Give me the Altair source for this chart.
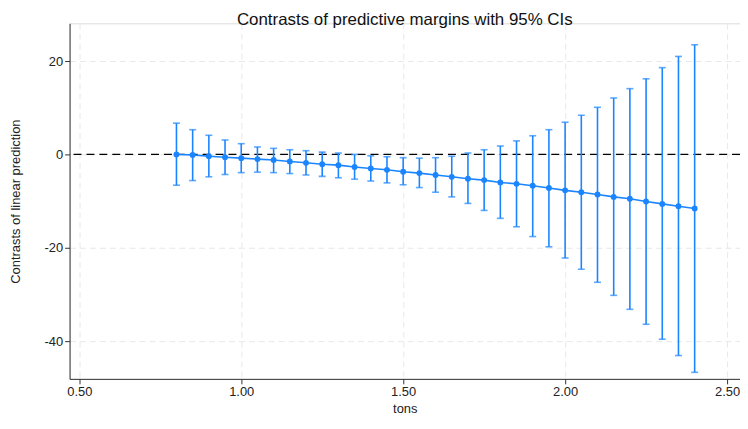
import altair as alt
import pandas as pd

tons = [0.80,0.85,0.90,0.95,1.00,1.05,1.10,1.15,1.20,1.25,1.30,1.35,1.40,1.45,1.50,1.55,
        1.60,1.65,1.70,1.75,1.80,1.85,1.90,1.95,2.00,2.05,2.10,2.15,2.20,2.25,2.30,2.35,2.40]
est = [0,-0.1,-0.4,-0.6,-0.8,-1.0,-1.2,-1.5,-1.8,-2.1,-2.3,-2.7,-3.0,-3.3,-3.7,-4.0,
       -4.4,-4.8,-5.2,-5.5,-6.0,-6.3,-6.7,-7.2,-7.7,-8.1,-8.6,-9.1,-9.5,-10.1,-10.6,-11.1,-11.6]
upper = [6.7,5.3,4.1,3.1,2.3,1.6,1.3,1.0,0.8,0.5,0.3,0.0,-0.3,-0.5,-0.7,-0.8,
         -0.7,-0.4,0.3,1.0,1.8,2.9,4.0,5.3,6.9,8.4,10.1,12.1,14.1,16.2,18.6,21.0,23.5]
lower = [-6.6,-5.6,-4.8,-4.3,-3.9,-3.8,-3.9,-4.1,-4.4,-4.7,-5.0,-5.3,-5.7,-6.1,-6.5,-7.1,
         -8.1,-9.1,-10.5,-12.0,-13.7,-15.5,-17.6,-19.8,-22.2,-24.6,-27.4,-30.2,-33.2,-36.4,-39.6,-43.1,-46.7]

df = pd.DataFrame({"tons": tons, "est": est, "upper": upper, "lower": lower})
blue = "#1a85ff"

xs = alt.Scale(domain=[0.47, 2.54], nice=False, zero=False)
ys = alt.Scale(domain=[-48.1, 28.1], nice=False, zero=False)
X = alt.X("tons:Q", scale=xs, title="tons",
          axis=alt.Axis(values=[0.5, 1.0, 1.5, 2.0, 2.5], format=".2f", grid=True,
                        gridDash=[6, 4], gridColor="#e8e8e8", domainColor="#333", tickColor="#333",
                        labelFontSize=13, titleFontSize=13, labelColor="#222", titleColor="#222",
                        titleFontWeight="normal", labelFont="Liberation Sans", titleFont="Liberation Sans"))
Yax = alt.Axis(values=[-40, -20, 0, 20], grid=True, gridDash=[6, 4], gridColor="#e8e8e8",
               domainColor="#333", tickColor="#333", labelFontSize=13, titleFontSize=13,
               labelColor="#222", titleColor="#222", titleFontWeight="normal",
               labelExpr="'' + datum.value",
               labelFont="Liberation Sans", titleFont="Liberation Sans", titlePadding=22)

base = alt.Chart(df)
ref = alt.Chart(pd.DataFrame({"y": [0]})).mark_rule(color="black", strokeDash=[8, 5], strokeWidth=1.3).encode(
    y=alt.Y("y:Q", scale=ys, axis=Yax, title="Contrasts of linear prediction"))
bars = base.mark_rule(color=blue, strokeWidth=1.6).encode(
    x=X, y=alt.Y("lower:Q", scale=ys), y2="upper:Q")
capsU = base.mark_tick(color=blue, size=7, thickness=1.6, orient="horizontal").encode(x=X, y=alt.Y("upper:Q", scale=ys))
capsL = base.mark_tick(color=blue, size=7, thickness=1.6, orient="horizontal").encode(x=X, y=alt.Y("lower:Q", scale=ys))
line = base.mark_line(color=blue, strokeWidth=1.6).encode(x=X, y=alt.Y("est:Q", scale=ys))
pts = base.mark_point(color=blue, filled=True, opacity=1, size=35).encode(x=X, y=alt.Y("est:Q", scale=ys))

chart = alt.layer(ref, bars, capsU, capsL, line, pts).properties(
    width=675, height=358,
    autosize=alt.AutoSizeParams(type="none"),
    padding={"left": 62, "top": 14, "right": 0, "bottom": 40},
    title=alt.TitleParams("Contrasts of predictive margins with 95% CIs", fontSize=17,
                          font="Liberation Sans", fontWeight="normal", color="#111", offset=0, dy=6),
).configure_view(stroke=None).configure(background="white")

chart.save("out.html", embed_options={"renderer": "svg", "actions": False})
